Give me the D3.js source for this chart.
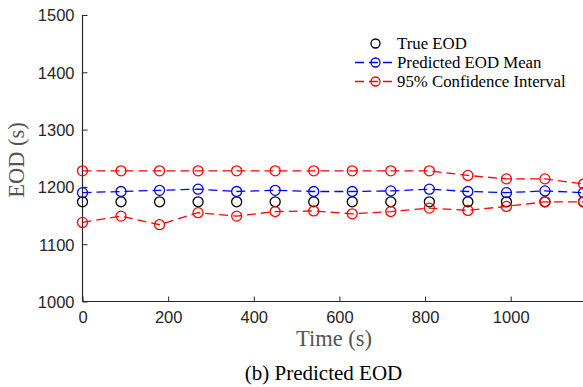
<!DOCTYPE html>
<html>
<head>
<meta charset="utf-8">
<script src="https://cdn.jsdelivr.net/npm/d3@7/dist/d3.min.js"></script>
<style>
html,body{margin:0;padding:0;background:#fff;}
svg{display:block;}
</style>
</head>
<body>
<svg id="chart" width="583" height="387"></svg>
<script>
const timeValues = [0, 90, 180, 270, 360, 450, 540, 630, 720, 810, 900, 990, 1080, 1170];
const trueEOD = [1174, 1174, 1174, 1174, 1174, 1174, 1174, 1174, 1174, 1174, 1174, 1174, 1174, 1174];
const meanEOD = [1190, 1192, 1194, 1196, 1192, 1194, 1192, 1192, 1193, 1196, 1192, 1190, 1193, 1190];
const upperCI = [1228, 1228, 1228, 1228, 1228, 1228, 1228, 1228, 1228, 1228, 1220, 1214, 1214, 1205];
const lowerCI = [1138, 1149, 1134, 1155, 1149, 1157, 1158, 1153, 1157, 1163, 1159, 1166, 1174, 1174];
const xTicks = [0, 200, 400, 600, 800, 1000];
const yTicks = [1000, 1100, 1200, 1300, 1400, 1500];
const legendLabels = ["True EOD", "Predicted EOD Mean", "95% Confidence Interval"];

const svg = d3.select("#chart");
const axisColor = "#262626";
const serif = "'Liberation Serif', 'Times New Roman', serif";
const x = d3.scaleLinear().domain([0, 1170]).range([82.5, 583.5]);
const y = d3.scaleLinear().domain([1000, 1500]).range([301.5, 15]);

// axes
const xAxis = d3.axisBottom(x).tickValues(xTicks).tickSize(-5).tickPadding(8).tickFormat(d3.format("d"));
const gx = svg.append("g").attr("transform", "translate(0,301.5)").call(xAxis);
const yAxis = d3.axisLeft(y).tickValues(yTicks).tickSize(-5).tickPadding(8).tickFormat(d3.format("d"));
const gy = svg.append("g").attr("transform", "translate(82.5,0)").call(yAxis);
[gx, gy].forEach(g => {
  g.select(".domain").attr("stroke", axisColor).attr("stroke-width", 1.2);
  g.selectAll(".tick line").attr("stroke", axisColor).attr("stroke-width", 1);
  g.selectAll(".tick text").attr("fill", axisColor)
    .style("font-family", "'Liberation Sans', Arial, sans-serif").style("font-size", "16.5px");
});
gx.select(".domain").attr("d", `M${x(0)},0H583`);
gy.select(".domain").attr("d", `M0,${y(1000)}V${y(1500)}`);
gx.selectAll(".tick text").attr("dy", "0.8em");
gy.selectAll(".tick text").attr("dy", "0.36em");

// axis labels
svg.append("text").attr("x", 334).attr("y", 346).attr("text-anchor", "middle")
  .attr("fill", "#555").style("font-family", serif)
  .style("font-size", "22.5px").text("Time (s)");
svg.append("text").attr("transform", "translate(24,160) rotate(-90)").attr("text-anchor", "middle")
  .attr("fill", "#555").style("font-family", serif)
  .style("font-size", "22.5px").text("EOD (s)");
svg.append("text").attr("x", 323.5).attr("y", 380).attr("text-anchor", "middle")
  .attr("fill", "#000").style("font-family", serif)
  .style("font-size", "21px").text("(b) Predicted EOD");

const plot = svg.append("g");
const line = d3.line().x((d, i) => x(timeValues[i])).y(d => y(d));
const series = [
  {vals: trueEOD, color: "#000000", line: false},
  {vals: meanEOD, color: "#0000ff", line: true},
  {vals: upperCI, color: "#ff0000", line: true},
  {vals: lowerCI, color: "#ff0000", line: true}
];
series.forEach(s => {
  if (s.line) {
    plot.append("path").datum(s.vals).attr("d", line).attr("fill", "none")
      .attr("stroke", s.color).attr("stroke-width", 1.3).attr("stroke-dasharray", "9,5");
  }
  plot.selectAll(null).data(s.vals).enter().append("circle")
    .attr("cx", (d, i) => x(timeValues[i])).attr("cy", d => y(d)).attr("r", 5)
    .attr("fill", "none").attr("stroke", s.color).attr("stroke-width", 1.3);
});

// legend
const legendColors = ["#000000", "#0000ff", "#ff0000"];
const legendLines = [false, true, true];
const lg = svg.append("g");
legendLabels.forEach((lab, i) => {
  const ly = 43.5 + i * 19;
  if (legendLines[i]) {
    lg.append("line").attr("x1", 355).attr("x2", 393).attr("y1", ly).attr("y2", ly)
      .attr("stroke", legendColors[i]).attr("stroke-width", 1.3).attr("stroke-dasharray", "9,5");
  }
  lg.append("circle").attr("cx", 375.5).attr("cy", ly).attr("r", 4.5)
    .attr("fill", "none").attr("stroke", legendColors[i]).attr("stroke-width", 1.3);
  lg.append("text").attr("x", 397).attr("y", ly).attr("dy", "0.35em")
    .attr("fill", "#000").style("font-family", serif)
    .style("font-size", "16.8px").text(lab);
});
</script>
</body>
</html>
